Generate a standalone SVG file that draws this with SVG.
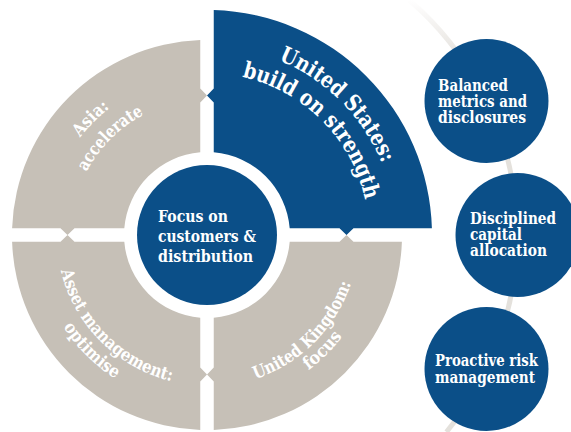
<svg xmlns="http://www.w3.org/2000/svg" xmlns:xlink="http://www.w3.org/1999/xlink" width="571" height="432" viewBox="0 0 571 432">
<style>
.blue{fill:#0b4f88}
.gray{fill:#c6c0b7}
.t{font-family:"DejaVu Serif","Liberation Serif",serif;font-weight:bold;fill:#ffffff}
.seg{font-size:17.5px}
.us{font-size:22.5px}
.ctr{font-size:17.5px}
.ball{font-size:16px}
</style>
<defs>
<linearGradient id="ringFade" gradientUnits="userSpaceOnUse" x1="0" y1="0" x2="0" y2="60">
<stop offset="0" stop-color="#ffffff"/>
<stop offset="1" stop-color="#e4e1dc"/>
</linearGradient>
<path id="pUS1" d="M207,46 A189,189 0 0 1 396,235"/>
<path id="pUS2" d="M207,73 A162,162 0 0 1 369,235"/>
<path id="pAsia1" d="M47,235 A160,160 0 0 1 207,75"/>
<path id="pAsia2" d="M71,235 A136,136 0 0 1 207,99"/>
<path id="pAM1" d="M56.5,235 A150.5,150.5 0 0 0 207,385.5"/>
<path id="pAM2" d="M36.5,235 A170.5,170.5 0 0 0 207,405.5"/>
<path id="pUK1" d="M207,387 A152,152 0 0 0 359,235"/>
<path id="pUK2" d="M207,404 A169,169 0 0 0 376,235"/>
</defs>
<rect width="571" height="432" fill="#ffffff"/>
<g id="connectors">
<path d="M409.2,0 A310,310 0 0 1 446.4,432" fill="none" stroke="url(#ringFade)" stroke-width="5"/>
</g>
<g id="seg-us">
<path class="blue" d="M213.75,152.3 L213.75,102.5 L207,95.5 L213.75,88.5 L213.75,10.1 A225,225 0 0 1 431.9,228.25 L353.5,228.25 L346.5,235 L339.5,228.25 L289.7,228.25 A83,83 0 0 0 213.75,152.3 Z"/>
<text class="t us"><textPath xlink:href="#pUS1" href="#pUS1" startOffset="50%" text-anchor="middle" textLength="150" lengthAdjust="spacingAndGlyphs">United States:</textPath></text>
<text class="t us"><textPath xlink:href="#pUS2" href="#pUS2" startOffset="50%" text-anchor="middle" textLength="184" lengthAdjust="spacingAndGlyphs">build on strength</textPath></text>
</g>
<g id="seg-asia">
<path class="gray" d="M200.25,152.3 L200.25,102.5 L207,95.5 L200.25,88.5 L200.25,40.1 A195,195 0 0 0 12.1,228.25 L60.5,228.25 L67.5,235 L74.5,228.25 L124.3,228.25 A83,83 0 0 1 200.25,152.3 Z"/>
<text class="t seg"><textPath xlink:href="#pAsia1" href="#pAsia1" startOffset="50%" text-anchor="middle" textLength="42" lengthAdjust="spacingAndGlyphs">Asia:</textPath></text>
<text class="t seg"><textPath xlink:href="#pAsia2" href="#pAsia2" startOffset="50%" text-anchor="middle" textLength="82" lengthAdjust="spacingAndGlyphs">accelerate</textPath></text>
</g>
<g id="seg-asset">
<path class="gray" d="M124.3,241.75 L74.5,241.75 L67.5,235 L60.5,241.75 L12.1,241.75 A195,195 0 0 0 200.25,429.9 L200.25,381.5 L207,374.5 L200.25,367.5 L200.25,317.7 A83,83 0 0 1 124.3,241.75 Z"/>
<text class="t seg"><textPath xlink:href="#pAM1" href="#pAM1" startOffset="50%" text-anchor="middle" textLength="164" lengthAdjust="spacingAndGlyphs">Asset management:</textPath></text>
<text class="t seg"><textPath xlink:href="#pAM2" href="#pAM2" startOffset="50%" text-anchor="middle" textLength="74" lengthAdjust="spacingAndGlyphs">optimise</textPath></text>
</g>
<g id="seg-uk">
<path class="gray" d="M289.7,241.75 L339.5,241.75 L346.5,235 L353.5,241.75 L401.9,241.75 A195,195 0 0 1 213.75,429.9 L213.75,381.5 L207,374.5 L213.75,367.5 L213.75,317.7 A83,83 0 0 0 289.7,241.75 Z"/>
<text class="t seg"><textPath xlink:href="#pUK1" href="#pUK1" startOffset="50%" text-anchor="middle" textLength="140" lengthAdjust="spacingAndGlyphs">United Kingdom:</textPath></text>
<text class="t seg"><textPath xlink:href="#pUK2" href="#pUK2" startOffset="50%" text-anchor="middle" textLength="48" lengthAdjust="spacingAndGlyphs">focus</textPath></text>
</g>
<g id="center">
<circle class="blue" cx="207" cy="235" r="70"/>
<text class="t ctr" x="158" y="222" textLength="70" lengthAdjust="spacingAndGlyphs">Focus on</text>
<text class="t ctr" x="158" y="242" textLength="98" lengthAdjust="spacingAndGlyphs">customers &amp;</text>
<text class="t ctr" x="158" y="262" textLength="95" lengthAdjust="spacingAndGlyphs">distribution</text>
</g>
<g id="ball1">
<circle class="blue" cx="486.5" cy="101" r="62"/>
<text class="t ball" x="438" y="91" textLength="70" lengthAdjust="spacingAndGlyphs">Balanced</text>
<text class="t ball" x="438" y="107" textLength="89" lengthAdjust="spacingAndGlyphs">metrics and</text>
<text class="t ball" x="438" y="123" textLength="88" lengthAdjust="spacingAndGlyphs">disclosures</text>
</g>
<g id="ball2">
<circle class="blue" cx="517.5" cy="235" r="62"/>
<text class="t ball" x="470" y="224" textLength="86" lengthAdjust="spacingAndGlyphs">Disciplined</text>
<text class="t ball" x="470" y="240" textLength="52" lengthAdjust="spacingAndGlyphs">capital</text>
<text class="t ball" x="470" y="256" textLength="77" lengthAdjust="spacingAndGlyphs">allocation</text>
</g>
<g id="ball3">
<circle class="blue" cx="486.5" cy="369" r="62"/>
<text class="t ball" x="435" y="366" textLength="103" lengthAdjust="spacingAndGlyphs">Proactive risk</text>
<text class="t ball" x="435" y="383" textLength="100" lengthAdjust="spacingAndGlyphs">management</text>
</g>
</svg>
